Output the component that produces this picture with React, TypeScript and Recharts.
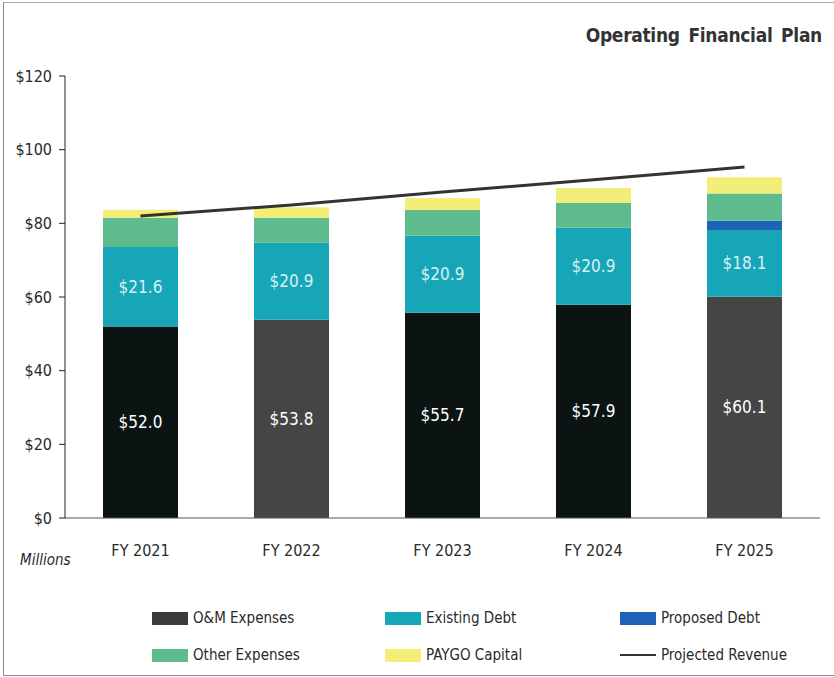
import React from 'react'
import {
  ComposedChart,
  Bar,
  Line,
  XAxis,
  YAxis,
  Cell,
  LabelList,
} from 'recharts'

const years = ['FY 2021', 'FY 2022', 'FY 2023', 'FY 2024', 'FY 2025']
const omExpenses = [52.0, 53.8, 55.7, 57.9, 60.1]
const existingDebt = [21.6, 20.9, 20.9, 20.9, 18.1]
const proposedDebt = [0, 0, 0, 0, 2.5]
const otherExpenses = [7.9, 6.8, 7.0, 6.7, 7.4]
const paygoCapital = [2.2, 2.9, 3.3, 4.1, 4.4]
const projectedRevenue = [82.0, 85.0, 88.5, 91.8, 95.3]
const yTicks = [0, 20, 40, 60, 80, 100, 120]

// scan of the O&M bars is uneven: some come out near-black, some grey
const omColors = ['#0b1313', '#454545', '#0b1313', '#0b1313', '#454545']

const data = years.map((year, i) => ({
  year,
  om: omExpenses[i],
  debt: existingDebt[i],
  proposed: proposedDebt[i],
  other: otherExpenses[i],
  paygo: paygoCapital[i],
  revenue: projectedRevenue[i],
}))

const font = '"DejaVu Sans Condensed", "DejaVu Sans", sans-serif'

const legendItems = [
  { label: 'O&M Expenses', color: '#3b3b3b', type: 'box' },
  { label: 'Existing Debt', color: '#17a6b8', type: 'box' },
  { label: 'Proposed Debt', color: '#1f63b8', type: 'box' },
  { label: 'Other Expenses', color: '#5dbb8d', type: 'box' },
  { label: 'PAYGO Capital', color: '#f3ee78', type: 'box' },
  { label: 'Projected Revenue', color: '#333333', type: 'line' },
]
const legendCols = [152, 385, 620]
const legendRows = [618, 655]

export default function App() {
  return (
    <div style={{ position: 'relative', width: 834, height: 677, background: '#fff', fontFamily: font }}>
      <style>{'body{margin:0}'}</style>
      <div
        style={{
          position: 'absolute',
          left: 3,
          top: 2,
          width: 832,
          height: 672,
          borderLeft: '1px solid #888',
          borderTop: '1px solid #aaa',
          borderBottom: '1px solid #888',
        }}
      />
      <div
        style={{
          position: 'absolute',
          right: 12,
          top: 24,
          fontSize: 19,
          fontWeight: 'bold',
          color: '#333',
          wordSpacing: 3,
          letterSpacing: -0.3,
        }}
      >
        Operating Financial Plan
      </div>
      <ComposedChart
        width={834}
        height={677}
        data={data}
        margin={{ top: 76, right: 14, left: 5, bottom: 99 }}
      >
        <XAxis
          dataKey="year"
          height={60}
          axisLine={{ stroke: '#555' }}
          tickLine={false}
          tickMargin={21}
          tick={{ fill: '#2a2a2a', fontSize: 16, fontFamily: font }}
        />
        <YAxis
          width={60}
          domain={[0, 120]}
          ticks={yTicks}
          tickFormatter={(v) => `$${v}`}
          axisLine={{ stroke: '#222' }}
          tickLine={{ stroke: '#222' }}
          tickMargin={7}
          tick={{ fill: '#2a2a2a', fontSize: 16, fontFamily: font }}
        />
        <Bar dataKey="om" stackId="a" barSize={75} isAnimationActive={false}>
          {data.map((d, i) => (
            <Cell key={d.year} fill={omColors[i]} />
          ))}
          <LabelList
            dataKey="om"
            position="center"
            formatter={(v) => `$${Number(v).toFixed(1)}`}
            fill="#ffffff"
            fontSize={17}
            fontFamily={font}
          />
        </Bar>
        <Bar dataKey="debt" stackId="a" barSize={75} fill="#17a6b8" isAnimationActive={false}>
          <LabelList
            dataKey="debt"
            position="center"
            formatter={(v) => `$${Number(v).toFixed(1)}`}
            fill="#d8f0f2"
            fontSize={17}
            fontFamily={font}
          />
        </Bar>
        <Bar dataKey="proposed" stackId="a" barSize={75} fill="#1f63b8" isAnimationActive={false} />
        <Bar dataKey="other" stackId="a" barSize={75} fill="#5dbb8d" isAnimationActive={false} />
        <Bar dataKey="paygo" stackId="a" barSize={75} fill="#f3ee78" isAnimationActive={false} />
        <Line
          dataKey="revenue"
          stroke="#333"
          strokeWidth={3}
          dot={false}
          activeDot={false}
          isAnimationActive={false}
        />
      </ComposedChart>
      <div
        style={{
          position: 'absolute',
          left: 20,
          top: 551,
          fontSize: 15,
          fontStyle: 'italic',
          color: '#2a2a2a',
        }}
      >
        Millions
      </div>
      {legendItems.map((item, i) => {
        const x = legendCols[i % 3]
        const y = legendRows[Math.floor(i / 3)]
        return (
          <div
            key={item.label}
            style={{
              position: 'absolute',
              left: x,
              top: y - 10,
              height: 20,
              display: 'flex',
              alignItems: 'center',
              fontSize: 15,
              color: '#2a2a2a',
            }}
          >
            <span
              style={{
                display: 'inline-block',
                width: 36,
                height: item.type === 'line' ? 2 : 13,
                background: item.color,
                marginRight: 5,
              }}
            />
            {item.label}
          </div>
        )
      })}
    </div>
  )
}
